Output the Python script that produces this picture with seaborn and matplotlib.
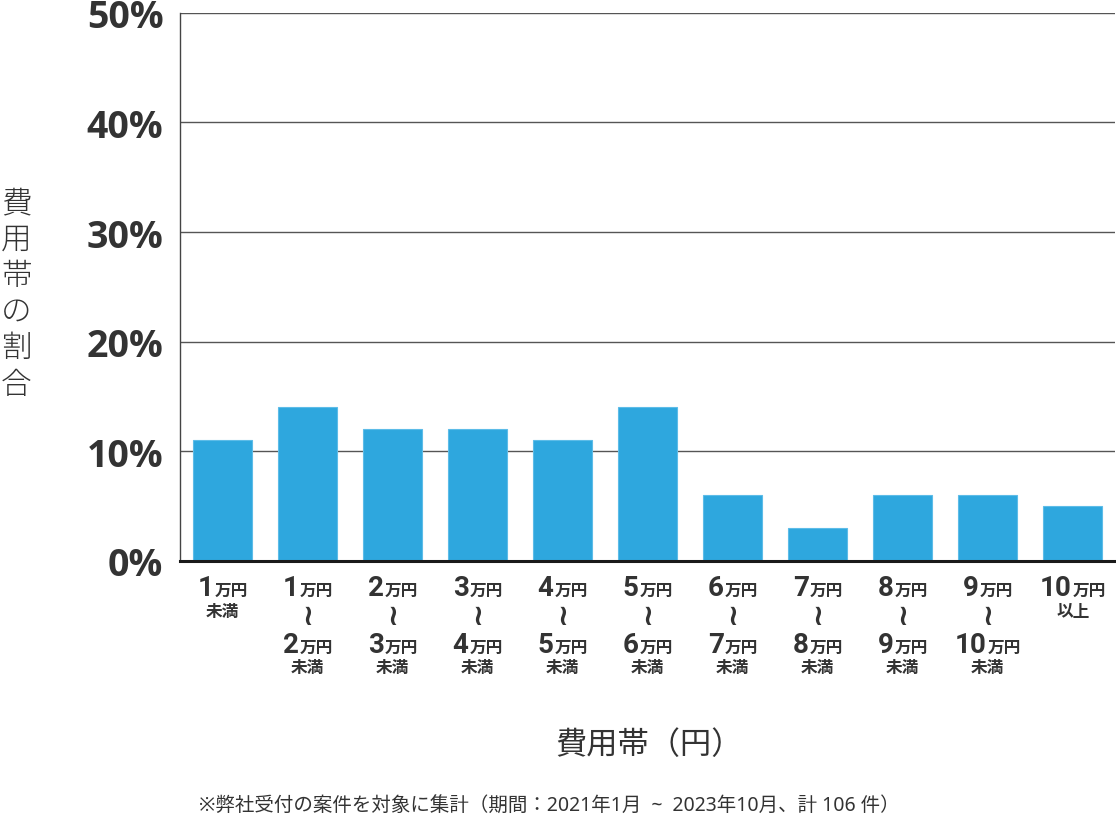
import matplotlib
matplotlib.use("Agg")
import matplotlib.pyplot as plt
import seaborn as sns
from matplotlib.offsetbox import TextArea, HPacker, VPacker, AnnotationBbox

# data (share of cases per price band, %)
categories = ["1万円未満", "1〜2万円未満", "2〜3万円未満", "3〜4万円未満", "4〜5万円未満",
              "5〜6万円未満", "6〜7万円未満", "7〜8万円未満", "8〜9万円未満",
              "9〜10万円未満", "10万円以上"]
shares = [11, 14, 12, 12, 11, 14, 6, 3, 6, 6, 5]
band_from = [None, "1", "2", "3", "4", "5", "6", "7", "8", "9", "10"]
band_to = ["1", "2", "3", "4", "5", "6", "7", "8", "9", "10", None]
y_ticks = [0, 10, 20, 30, 40, 50]

sns.set_theme(style="white")
plt.rcParams["font.family"] = ["Noto Sans CJK JP", "DejaVu Sans"]

text_color = "#333333"
bar_color = "#2ea7de"
cjk = ["Noto Sans CJK JP", "DejaVu Sans"]
latin_cjk = ["Noto Sans", "Noto Sans CJK JP", "DejaVu Sans"]
digits = ["Liberation Sans Narrow", "Roboto", "DejaVu Sans"]

fig = plt.figure(figsize=(11.16, 8.28), dpi=100)
ax = fig.add_axes([0.1613, 0.3213, 0.838, 0.662])

sns.barplot(x=categories, y=shares, color=bar_color, width=0.7,
            edgecolor="#5dbce8", linewidth=0.8, saturation=1, ax=ax, zorder=3)

ax.set_xlim(-0.5, len(categories) - 0.5)
ax.set_ylim(0, 50)
ax.set_yticks(y_ticks)
ax.set_yticklabels([f"{v}%" for v in y_ticks], fontsize=27, fontweight="bold",
                   color=text_color, family=["Open Sans", "DejaVu Sans"])
ax.tick_params(axis="y", length=0, pad=12)
ax.tick_params(axis="x", length=0)
ax.set_xticks(range(len(categories)))
ax.set_xticklabels([""] * len(categories))

ax.yaxis.grid(True, color="#555555", linewidth=1, zorder=0)
ax.xaxis.grid(False)
for side in ["top", "right"]:
    ax.spines[side].set_visible(False)
ax.spines["left"].set_color("#444444")
ax.spines["left"].set_linewidth(1)
ax.spines["bottom"].set_color("#1a1a1a")
ax.spines["bottom"].set_linewidth(2.2)
ax.spines["bottom"].set_zorder(4)


def amount_line(num):
    n = TextArea(num, textprops=dict(fontsize=20, fontweight="bold", color=text_color,
                                     family=digits))
    u = TextArea("万円", textprops=dict(fontsize=12, fontweight="bold", color=text_color,
                                       family=cjk))
    return HPacker(children=[n, u], align="baseline", pad=0, sep=0.5)


def small_line(s):
    return TextArea(s, textprops=dict(fontsize=12, fontweight="bold", color=text_color,
                                     family=cjk))


for i, (lo, hi) in enumerate(zip(band_from, band_to)):
    if lo is None:
        rows = [amount_line(hi), small_line("未満")]
    elif hi is None:
        rows = [amount_line(lo), small_line("以上")]
    else:
        wave = TextArea("≀", textprops=dict(fontsize=21, fontweight="bold", color=text_color,
                                            family=["DejaVu Sans"]))
        rows = [amount_line(lo), wave, amount_line(hi), small_line("未満")]
    box = VPacker(children=rows, align="center", pad=0, sep=0.5)
    ab = AnnotationBbox(box, (i, 0), xycoords=ax.get_xaxis_transform(),
                        xybox=(0, -9.5), boxcoords="offset points",
                        box_alignment=(0.5, 1), frameon=False)
    ax.add_artist(ab)

ax.set_ylabel("\n".join("費用帯の割合"), rotation=0, fontsize=22, color=text_color,
              fontweight="light", linespacing=1.17, labelpad=0, va="center")
ax.yaxis.set_label_coords(-0.175, 0.489)

fig.text(0.582, 0.1, "費用帯（円）", ha="center", va="center", fontsize=22.5,
         color=text_color)
fig.text(0.178, 0.027, "※弊社受付の案件を対象に集計（期間：2021年1月  ~  2023年10月、計 106 件）",
         ha="left", va="center", fontsize=14, color=text_color, family=latin_cjk)

fig.savefig("out.png", dpi=100)
